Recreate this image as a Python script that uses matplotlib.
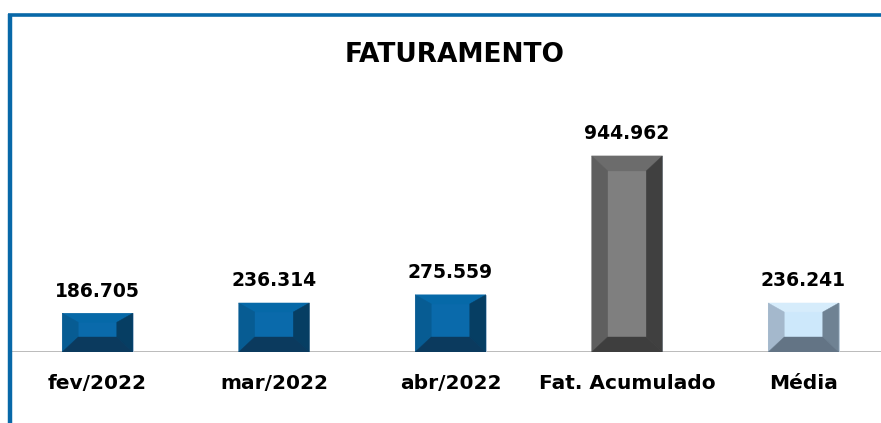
import matplotlib.pyplot as plt
from matplotlib.patches import Polygon
from matplotlib.lines import Line2D

# chart data
categories = ["fev/2022", "mar/2022", "abr/2022", "Fat. Acumulado", "Média"]
values = [186705, 236314, 275559, 944962, 236241]
labels = ["186.705", "236.314", "275.559", "944.962", "236.241"]

# bevel colours per bar: face, top, left, right, bottom
blue = ("#0a6aab", "#0669a8", "#075c93", "#063e63", "#0b3a5e")
gray = ("#7f7f7f", "#6c6c6c", "#5f5f5f", "#404040", "#3e3e3e")
light = ("#cde8fb", "#d6ecfb", "#a4b8cc", "#6f8293", "#637485")
bar_colors = [blue, blue, blue, gray, light]

W, H = 881, 423
fig = plt.figure(figsize=(W / 100, H / 100), dpi=100)

# plot area in pixels (from the reference)
x0, x1 = 9.25, 891.75
base_px = 352
top_px = 100
px_per_unit = 2.075e-4
ax = fig.add_axes([x0 / W, (H - base_px) / H, (x1 - x0) / W, (base_px - top_px) / H])
ax.set_xlim(-0.5, len(categories) - 0.5)
ax.set_ylim(0, (base_px - top_px) / px_per_unit)
ax.axis("off")

bar_w = 0.40
bars = ax.bar(range(len(categories)), values, width=bar_w, color=[c[0] for c in bar_colors],
              edgecolor="#b8c8d8", linewidth=0.6, zorder=2)

# bevel sizes in data units
ux = (x1 - x0) / len(categories)
side = 16 / ux
for rect, cols in zip(bars, bar_colors):
    xl = rect.get_x()
    xr = xl + rect.get_width()
    h = rect.get_height()
    h_px = h * px_per_unit
    tb = (15 if h_px > 100 else 9) / px_per_unit
    bb = 15 / px_per_unit
    il, ir = xl + side, xr - side
    it, ib = h - tb, bb
    polys = [
        ([(xl, h), (xr, h), (ir, it), (il, it)], cols[1]),
        ([(xl, 0), (xl, h), (il, it), (il, ib)], cols[2]),
        ([(xr, 0), (xr, h), (ir, it), (ir, ib)], cols[3]),
        ([(xl, 0), (xr, 0), (ir, ib), (il, ib)], cols[4]),
    ]
    for pts, c in polys:
        ax.add_patch(Polygon(pts, closed=True, facecolor=c, edgecolor=c, linewidth=0.3, zorder=3))

font = "DejaVu Sans"
for i, (v, lab) in enumerate(zip(values, labels)):
    ax.annotate(lab, (i, v), xytext=(0, 9), textcoords="offset points", ha="center",
                va="bottom", fontsize=13.5, fontweight="bold", family=font, color="black")
    ax.annotate(categories[i], (i, 0), xytext=(0, -16), textcoords="offset points",
                ha="center", va="top", fontsize=14.5, fontweight="bold", family=font, color="black")

# baseline
ax.axhline(0, color="#a6a6a6", linewidth=1.8, zorder=1, xmin=(12 - x0) / (x1 - x0))

fig.text(455 / W, 1 - 55 / H, "FATURAMENTO", ha="center", va="center", fontsize=19,
         fontweight="bold", family=font, color="black")

# chart frame, only top and left edges visible
frame = "#0868a8"
fig.add_artist(Line2D([10 / W, 10 / W], [0, 1 - 14 / H], color=frame, linewidth=3.2,
                      solid_capstyle="butt"))
fig.add_artist(Line2D([8 / W, 1], [1 - 15.5 / H, 1 - 15.5 / H], color=frame, linewidth=2.6,
                      solid_capstyle="butt"))

fig.savefig("out.png", dpi=100)
